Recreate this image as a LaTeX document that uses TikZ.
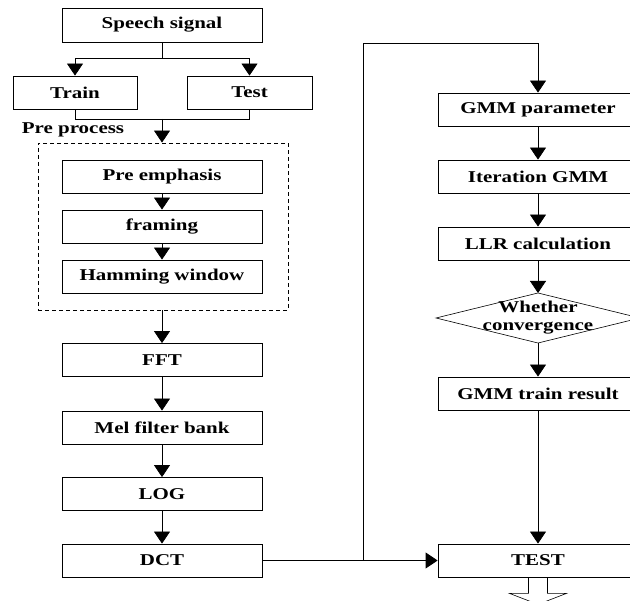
\documentclass[tikz,border=0pt]{standalone}
\usepackage{fontspec}
\setmainfont[FakeStretch=1.27]{Liberation Serif}
\usetikzlibrary{arrows.meta}
\begin{document}
\begin{tikzpicture}[x=1pt,y=-1pt,
  every node/.style={font=\fontsize{16.5}{18}\selectfont\bfseries},
  box/.style={draw,line width=0.8pt,minimum width=200pt,minimum height=33pt,inner sep=0pt},
  conn/.style={line width=0.8pt},
  arr/.style={conn,-{Triangle[length=12pt,width=16pt]}}]
\clip (0,0) rectangle (630,601);
\fill[white] (0,0) rectangle (630,601);
% left column
\node[box,minimum height=34pt] (speech) at (162,25) {Speech signal};
\node[box,minimum width=124pt] (train) at (75,92.5) {Train};
\node[box,minimum width=125pt] (test) at (249.5,92.5) {Test};
\node (pplabel) at (73,130) {Pre process};
\node[draw,dashed,dash pattern=on 4pt off 3pt,line width=0.8pt,minimum width=250pt,minimum height=167pt,inner sep=0pt] (pp) at (163,226.5) {};
\node[box] (pre) at (162,176.5) {Pre emphasis};
\node[box] (fram) at (162,226.5) {framing};
\node[box] (ham) at (162,276.5) {Hamming window};
\node[box] (fft) at (162,360) {FFT};
\node[box] (mel) at (162,427.5) {Mel filter bank};
\node[box] (log) at (162,494) {LOG};
\node[box] (dct) at (162,560.5) {DCT};
% right column
\node[box] (gmm) at (538,109.5) {GMM parameter};
\node[box] (iter) at (538,176.5) {Iteration GMM};
\node[box] (llr) at (538,243.5) {LLR calculation};
\node[align=center,inner sep=0pt,font=\fontsize{16.5}{18}\selectfont\bfseries] (conv) at (538,318) {Whether\\convergence};
\coordinate (convtop) at (538,293);
\coordinate (convbot) at (538,343);
\draw[line width=0.6pt] (convtop) -- (640,318) -- (convbot) -- (436,318) -- cycle;
\node[box] (res) at (538,393.5) {GMM train result};
\node[box] (tst) at (538,560.5) {TEST};
% connectors
\coordinate (split) at (162,58);
\draw[conn] (speech.south) -- (split);
\draw[arr] (split) -| (train.north);
\draw[arr] (split) -| (test.north);
\coordinate (merge) at (162,119);
\draw[conn] (train.south) |- (merge);
\draw[conn] (test.south) |- (merge);
\draw[arr] (merge) -- (merge |- pp.north);
\draw[arr] (pre) -- (fram);
\draw[arr] (fram) -- (ham);
\draw[arr] (fft.north |- pp.south) -- (fft.north);
\draw[arr] (fft) -- (mel);
\draw[arr] (mel) -- (log);
\draw[arr] (log) -- (dct);
\coordinate (bend) at (363,43);
\draw[arr] (dct.east) -| (bend) -| (gmm.north);
\draw[arr] (dct.east) -- (tst.west);
\draw[arr] (gmm) -- (iter);
\draw[arr] (iter) -- (llr);
\draw[arr] (llr.south) -- (convtop);
\draw[arr] (convbot) -- (res.north);
\draw[arr] (res) -- (tst);
\draw[line width=0.6pt] (tst.south) ++(-9.5,0) -- ++(0,16) -- ++(-19,0) -- ++(28.5,11) -- ++(28.5,-11) -- ++(-19,0) -- ++(0,-16);
\end{tikzpicture}
\end{document}
